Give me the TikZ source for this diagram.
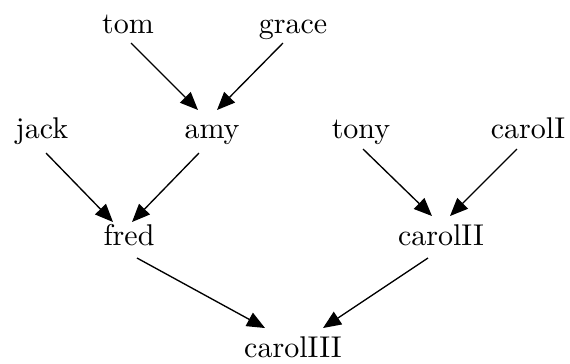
\documentclass[tikz,border=0pt]{standalone}
\usetikzlibrary{arrows.meta}
\begin{document}
\begin{tikzpicture}[x=0.3333pt,y=-0.3333pt,
  person/.style={inner sep=0pt,text height=7pt,text depth=2pt},
  link/.style={line width=0.45pt,-{Triangle[length=6pt,width=5pt]}}]
\useasboundingbox (0,0) rectangle (570,363);
\node[person] (tom) at (128,25.5) {tom};
\node[person] (grace) at (293,25.5) {grace};
\node[person] (jack) at (42,130.5) {jack};
\node[person] (amy) at (212,130.5) {amy};
\node[person] (tony) at (361,130.5) {tony};
\node[person] (carolI) at (528,130.5) {carolI};
\node[person] (fred) at (129,237.5) {fred};
\node[person] (carolII) at (441,237.5) {carolII};
\node[person] (carolIII) at (293,349.5) {carolIII};
\draw[link] ([shift={(3,17.5)}]tom.center) -- ([shift={(-14,-20.5)}]amy.center);
\draw[link] ([shift={(-10,17.5)}]grace.center) -- ([shift={(5,-20.5)}]amy.center);
\draw[link] ([shift={(4,22.5)}]jack.center) -- ([shift={(-16,-15.5)}]fred.center);
\draw[link] ([shift={(-13,22.5)}]amy.center) -- ([shift={(3,-15.5)}]fred.center);
\draw[link] ([shift={(2,18.5)}]tony.center) -- ([shift={(-9,-21.5)}]carolII.center);
\draw[link] ([shift={(-11,18.5)}]carolI.center) -- ([shift={(9,-21.5)}]carolII.center);
\draw[link] ([shift={(8,20.5)}]fred.center) -- ([shift={(-28,-21.5)}]carolIII.center);
\draw[link] ([shift={(-13,20.5)}]carolII.center) -- ([shift={(30,-21.5)}]carolIII.center);
\end{tikzpicture}
\end{document}
